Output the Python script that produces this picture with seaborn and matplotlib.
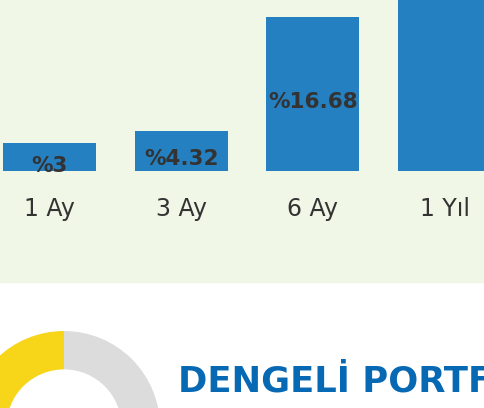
import matplotlib
matplotlib.use("Agg")
import matplotlib.pyplot as plt
from matplotlib.patches import Rectangle
import seaborn as sns

# chart values
periods = ["1 Ay", "3 Ay", "6 Ay", "1 Yıl"]
returns = [3, 4.32, 16.68, 52]
return_labels = ["%3", "%4.32", "%16.68", "%52"]
donut_parts = [50, 50]
title = "DENGELİ PORTFÖY"

BLUE = "#2580c1"
GREEN_BG = "#f0f7e6"
TEXT = "#333333"

sns.set_theme(style="white")
plt.rcParams["font.family"] = ["DejaVu Sans"]

W, H = 484, 408
fig = plt.figure(figsize=(W / 100, H / 100), dpi=100, facecolor="white")

# green panel behind the bars
fig.patches.append(Rectangle((0, (H - 282) / H), 1, 282 / H,
                             transform=fig.transFigure, color=GREEN_BG, zorder=-10))

# bar axes: baseline at 171 px from top, top of figure at the upper edge
ax = fig.add_axes([0, (H - 171) / H, 1, 171 / H])
ax.set_facecolor("none")
sns.barplot(x=periods, y=returns, color=BLUE, saturation=1, width=0.705,
            linewidth=0, ax=ax)
ax.set_xlim(-49.5 / 131.7, (W - 49.5) / 131.7)
ax.set_ylim(0, 171 / 9.22)
for s in ax.spines.values():
    s.set_visible(False)
ax.set_yticks([])
ax.set_xlabel("")
ax.set_ylabel("")
ax.tick_params(axis="x", length=0, pad=18.7, labelsize=17, labelcolor=TEXT)

# value labels; the ones whose bar middle is off the axes are clipped
for i, (v, lab) in enumerate(zip(returns, return_labels)):
    ax.annotate(lab, (i, v / 2), xytext=(0, -6), textcoords="offset points",
                ha="center", va="center", fontsize=15.5, fontweight="bold",
                color=TEXT)

# donut, centred at (64, 427) px with outer radius 96 px
R = 96
cx, cy = 64, 427
dax = fig.add_axes([(cx - R) / W, (H - cy - R) / H, 2 * R / W, 2 * R / H])
dax.pie(donut_parts, colors=["#f7d518", "#dcdcdc"], startangle=90,
        counterclock=True, radius=1, wedgeprops=dict(width=0.4, linewidth=0))
dax.set_xlim(-1, 1)
dax.set_ylim(-1, 1)
dax.set_aspect("equal")
dax.axis("off")

fig.text(178 / W, (H - 391) / H, title, fontsize=25.5, fontweight="bold",
         color="#0768b4", ha="left", va="baseline")

fig.savefig("out.png", dpi=100)
